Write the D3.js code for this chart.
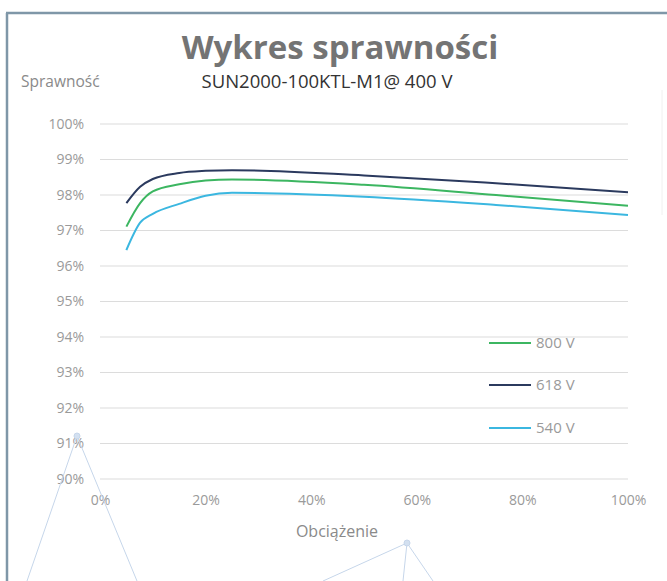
<!DOCTYPE html>
<html><head><meta charset="utf-8">
<script src="https://cdn.jsdelivr.net/npm/d3@7"></script>
<style>body{margin:0;background:#fff}svg{display:block}</style>
</head><body>
<svg id="c" width="667" height="581"></svg>
<script>
const loads = [5, 7.6, 10, 15, 20, 25, 50, 75, 100];
const eff800 = [97.11, 97.77, 98.10, 98.30, 98.41, 98.44, 98.29, 98.00, 97.70];
const eff618 = [97.77, 98.23, 98.45, 98.62, 98.68, 98.70, 98.55, 98.33, 98.08];
const eff540 = [96.45, 97.22, 97.47, 97.75, 97.98, 98.06, 97.95, 97.72, 97.44];
const seriesNames = ["800 V", "618 V", "540 V"];
const yTicks = [90, 91, 92, 93, 94, 95, 96, 97, 98, 99, 100];
const xTicks = [0, 20, 40, 60, 80, 100];
const colors = ["#3cb661", "#2b3a5e", "#3bb7e0"];

const svg = d3.select("#c");
const font = "'Open Sans', 'Segoe UI', sans-serif";

// frame
svg.append("line").attr("x1", 6).attr("x2", 667).attr("y1", 13).attr("y2", 13).attr("stroke", "#7f97a8").attr("stroke-width", 2.5);
svg.append("line").attr("x1", 7).attr("x2", 7).attr("y1", 13).attr("y2", 581).attr("stroke", "#7f97a8").attr("stroke-width", 2.5);
svg.append("line").attr("x1", 662).attr("x2", 662).attr("y1", 90).attr("y2", 215).attr("stroke", "#f0f0f0").attr("stroke-width", 1);

const x = d3.scaleLinear().domain([0, 100]).range([100, 628]);
const y = d3.scaleLinear().domain([90, 100]).range([479, 124]);

// grid
svg.append("g").selectAll("line").data(yTicks).join("line")
  .attr("x1", x(0)).attr("x2", x(100))
  .attr("y1", d => y(d)).attr("y2", d => y(d))
  .attr("stroke", "#dcdcdc").attr("stroke-width", 1.2);

// y labels
const yAxis = d3.axisLeft(y).tickValues(yTicks).tickFormat(d => d + "%").tickSize(0).tickPadding(0);
const gy = svg.append("g").attr("transform", "translate(84,0)").call(yAxis);
gy.select(".domain").remove();
gy.selectAll("text").attr("font-family", font).attr("font-size", 14).attr("fill", "#9a9a9a");

// x labels
const xAxis = d3.axisBottom(x).tickValues(xTicks).tickFormat(d => d + "%").tickSize(0).tickPadding(0);
const gx = svg.append("g").attr("transform", "translate(0,495)").call(xAxis);
gx.select(".domain").remove();
gx.selectAll("text").attr("font-family", font).attr("font-size", 14).attr("fill", "#9a9a9a");

// lines
const allSeries = [eff800, eff618, eff540];
const line = d3.line().x((d, i) => x(loads[i])).y(d => y(d)).curve(d3.curveMonotoneX);
allSeries.forEach((s, k) => {
  svg.append("path").datum(s).attr("d", line).attr("fill", "none")
    .attr("stroke", colors[k]).attr("stroke-width", 2);
});

// legend
const legY = [343, 385, 428];
seriesNames.forEach((n, k) => {
  svg.append("line").attr("x1", 489).attr("x2", 531).attr("y1", legY[k]).attr("y2", legY[k])
    .attr("stroke", colors[k]).attr("stroke-width", 2);
  svg.append("text").attr("x", 536).attr("y", legY[k] + 5).text(n)
    .attr("font-family", font).attr("font-size", 15).attr("fill", "#9a9a9a");
});

// titles
svg.append("text").attr("x", 340).attr("y", 59).attr("text-anchor", "middle").text("Wykres sprawności")
  .attr("font-family", font).attr("font-weight", "bold").attr("font-size", 33).attr("fill", "#747474");
svg.append("text").attr("x", 327).attr("y", 88).attr("text-anchor", "middle").text("SUN2000-100KTL-M1@ 400 V")
  .attr("font-family", font).attr("font-size", 18.5).attr("fill", "#333");
svg.append("text").attr("x", 21).attr("y", 87).text("Sprawność")
  .attr("font-family", font).attr("font-size", 15.5).attr("fill", "#8a8a8a");
svg.append("text").attr("x", 337).attr("y", 537).attr("text-anchor", "middle").text("Obciążenie")
  .attr("font-family", font).attr("font-size", 16).attr("fill", "#8a8a8a");

// decorative network lines
const deco = svg.append("g").attr("stroke", "#c6d6ea").attr("stroke-width", 1).attr("fill", "none");
[[77,436,27,581],[77,436,137,581],[407,543,323,581],[407,543,403,581],[407,543,433,581]].forEach(s => {
  deco.append("line").attr("x1", s[0]).attr("y1", s[1]).attr("x2", s[2]).attr("y2", s[3]);
});
[[77,436],[407,543]].forEach(p => {
  svg.append("circle").attr("cx", p[0]).attr("cy", p[1]).attr("r", 3).attr("fill", "#d3e0f0").attr("stroke", "#c6d6ea");
});
</script>
</body></html>
